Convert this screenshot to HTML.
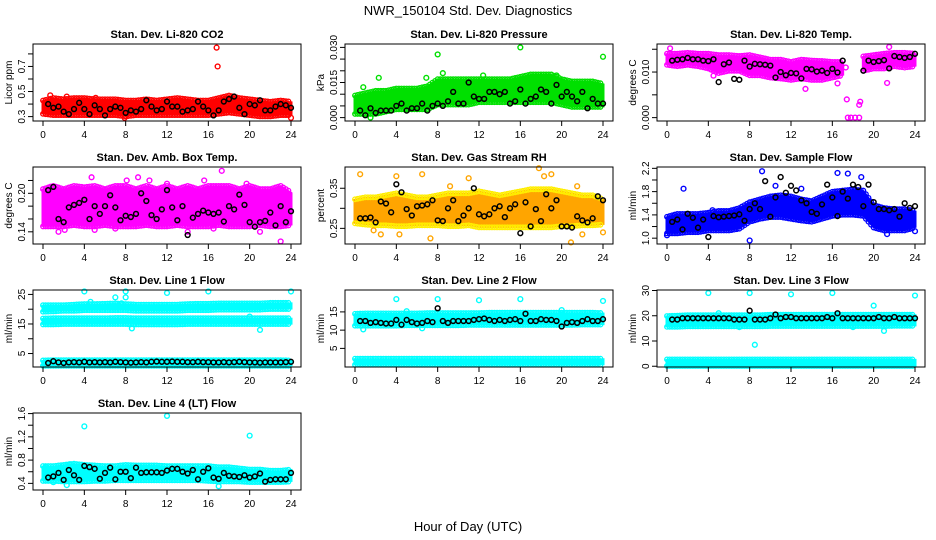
<!DOCTYPE html>
<html><head><meta charset="utf-8">
<style>
html,body{margin:0;padding:0;background:#fff;}
svg{display:block;font-family:"Liberation Sans",Arial,sans-serif;}
</style></head>
<body>
<svg id="chart" width="936" height="540" viewBox="0 0 936 540" xmlns="http://www.w3.org/2000/svg">
<rect width="936" height="540" fill="#fff"/>
<text x="468" y="15" text-anchor="middle" font-size="13">NWR_150104 Std. Dev. Diagnostics</text>
<text x="468" y="531" text-anchor="middle" font-size="13">Hour of Day (UTC)</text>
</svg>
<script>
const hours=[0,1,2,3,4,5,6,7,8,9,10,11,12,13,14,15,16,17,18,19,20,21,22,23,24];
const blackHours=[0.5,1,1.5,2,2.5,3,3.5,4,4.5,5,5.5,6,6.5,7,7.5,8,8.5,9,9.5,10,10.5,11,11.5,12,12.5,13,13.5,14,14.5,15,15.5,16,16.5,17,17.5,18,18.5,19,19.5,20,20.5,21,21.5,22,22.5,23,23.5,24];

const co2Lo=[0.33,0.32,0.32,0.32,0.32,0.32,0.32,0.32,0.31,0.32,0.32,0.32,0.32,0.32,0.32,0.32,0.32,0.33,0.34,0.33,0.32,0.31,0.31,0.32,0.32];
const co2Hi=[0.42,0.44,0.43,0.44,0.44,0.43,0.43,0.43,0.42,0.42,0.43,0.42,0.43,0.44,0.43,0.42,0.42,0.44,0.46,0.44,0.43,0.42,0.41,0.42,0.41];
const co2Black=[0.40,0.37,0.38,0.34,0.32,0.36,0.41,0.36,0.32,0.39,0.36,0.31,0.36,0.38,0.37,0.33,0.35,0.34,0.36,0.43,0.38,0.35,0.36,0.42,0.38,0.38,0.34,0.35,0.36,0.42,0.38,0.35,0.31,0.35,0.42,0.44,0.46,0.37,0.32,0.40,0.39,0.43,0.35,0.35,0.38,0.40,0.39,0.37];
const co2OutX=[16.8,16.9,0.7,24,7.9,2.3,5.1];
const co2OutY=[0.85,0.70,0.47,0.29,0.29,0.46,0.45];

const presLo=[0.002,0.002,0.002,0.003,0.004,0.004,0.004,0.004,0.006,0.006,0.006,0.006,0.007,0.007,0.007,0.007,0.007,0.007,0.007,0.007,0.006,0.005,0.005,0.005,0.005];
const presHi=[0.009,0.010,0.011,0.011,0.012,0.012,0.012,0.013,0.016,0.016,0.016,0.016,0.016,0.016,0.016,0.016,0.017,0.018,0.018,0.018,0.016,0.015,0.015,0.015,0.014];
const presBlack=[0.003,0.001,0.004,0.002,0.003,0.003,0.003,0.005,0.006,0.003,0.004,0.004,0.006,0.003,0.005,0.006,0.005,0.007,0.011,0.006,0.006,0.015,0.009,0.008,0.008,0.011,0.011,0.010,0.011,0.006,0.007,0.012,0.006,0.008,0.009,0.012,0.011,0.006,0.014,0.009,0.011,0.009,0.007,0.011,0.004,0.008,0.006,0.006];
const presOutX=[8,16,24,19.5,12.4,1.5,0.8,2.3,8.5,6.9];
const presOutY=[0.027,0.030,0.026,0.018,0.018,0.000,0.013,0.017,0.019,0.017];

const tempLo=[0.0118,0.0115,0.0118,0.0115,0.011,0.010,0.0105,0.0105,0.0095,0.0095,0.009,0.0088,0.0085,0.0088,0.0085,0.0085,0.009,0.0095,null,0.0105,0.011,0.011,0.0115,0.0112,0.0115];
const tempHi=[0.0138,0.0138,0.014,0.0138,0.0138,0.0135,0.0135,0.0133,0.0135,0.013,0.0125,0.0125,0.012,0.0125,0.0123,0.0122,0.012,0.012,null,0.0132,0.0135,0.0138,0.014,0.014,0.0138];
const tempBlack=[0.0125,0.0127,0.0128,0.0131,0.0128,0.0128,0.0125,0.0124,0.0128,0.0078,0.0117,0.0121,0.0085,0.0083,0.0125,0.0112,0.0118,0.0117,0.0116,0.0114,0.0088,0.0100,0.0093,0.0098,0.0097,0.0086,0.0107,0.0106,0.0101,0.0103,0.0098,0.0107,0.0099,0.0125,null,null,null,0.0103,0.0125,0.0122,0.0124,0.0126,0.0108,0.0135,0.0133,0.0131,0.0133,0.0140];
const tempOutX=[0.3,17.5,17.8,18.2,18.6,17.4,18.7,18.6,4.5,13.4,21.3,17.3,21.5,16.5];
const tempOutY=[0.0152,0,0,0,0,0.0040,0.0035,0.0028,0.0092,0.0063,0.0076,0.011,0.0155,0.0075];

const ambLo=[0.15,0.15,0.15,0.152,0.15,0.15,0.152,0.15,0.15,0.15,0.152,0.15,0.15,0.152,0.15,0.15,0.15,0.152,0.15,0.15,0.15,0.152,0.15,0.15,0.152];
const ambHi=[0.205,0.21,0.205,0.21,0.208,0.21,0.205,0.21,0.21,0.205,0.21,0.205,0.21,0.205,0.21,0.205,0.21,0.21,0.21,0.205,0.21,0.205,0.205,0.21,0.2];
const ambBlack=[0.205,0.21,0.16,0.155,0.178,0.182,0.185,0.19,0.16,0.18,0.168,0.18,0.197,0.178,0.158,0.165,0.163,0.168,0.20,0.188,0.166,0.16,0.175,0.205,0.178,0.158,0.18,0.135,0.162,0.168,0.173,0.17,0.168,0.17,0.156,0.18,0.175,0.198,0.182,0.155,0.148,0.155,0.157,0.17,0.15,0.18,0.155,0.172];
const ambOutX=[0.7,4.7,9.2,10.3,17.3,19.7,23,7,5,2.1,15.6,16.5,12,8.1,1.5,14,21];
const ambOutY=[0.21,0.225,0.225,0.22,0.235,0.215,0.125,0.145,0.143,0.143,0.22,0.145,0.215,0.22,0.14,0.14,0.14];

const rhLo=[0.265,0.262,0.26,0.26,0.258,0.258,0.26,0.26,0.26,0.258,0.258,0.26,0.255,0.255,0.255,0.255,0.255,0.255,0.255,0.255,0.258,0.258,0.26,0.26,0.262];
const rhHi=[0.32,0.325,0.325,0.33,0.335,0.33,0.325,0.325,0.33,0.335,0.335,0.335,0.34,0.335,0.33,0.335,0.34,0.345,0.345,0.345,0.34,0.335,0.33,0.33,0.32];
const rhBlack=[0.275,0.275,0.277,0.265,0.317,0.312,0.29,0.36,0.34,0.298,0.282,0.305,0.307,0.31,0.32,0.27,0.268,0.30,0.32,0.268,0.282,0.30,0.35,0.285,0.28,0.285,0.30,0.305,0.278,0.30,0.31,0.238,0.315,0.255,0.298,0.268,0.335,0.30,0.32,0.255,0.255,0.252,0.28,0.27,0.265,0.275,0.33,0.32];
const rhOutX=[0.5,6.5,17.8,19,18.3,4,20.9,7.3,4.3,2.5,24,22,11,9.2,1.8,21.5];
const rhOutY=[0.385,0.385,0.40,0.385,0.38,0.38,0.215,0.225,0.235,0.235,0.24,0.235,0.375,0.355,0.245,0.355];

const flowLo=[1.1,1.1,1.12,1.12,1.15,1.15,1.15,1.18,1.3,1.35,1.38,1.38,1.35,1.32,1.3,1.35,1.4,1.42,1.42,1.4,1.2,1.15,1.15,1.15,1.2];
const flowHi=[1.35,1.4,1.4,1.4,1.42,1.45,1.45,1.5,1.6,1.65,1.7,1.72,1.7,1.65,1.62,1.7,1.78,1.8,1.82,1.8,1.55,1.5,1.48,1.48,1.45];
const flowBlack=[1.28,1.32,1.15,1.42,1.35,1.18,1.32,1.02,1.38,1.36,1.37,1.38,1.39,1.41,1.30,1.50,1.60,1.50,1.98,1.37,1.70,2.05,1.78,1.90,1.82,1.65,1.60,1.45,1.42,1.58,1.92,1.70,1.38,1.80,1.68,1.92,1.88,1.55,1.92,1.62,1.50,1.50,1.48,1.50,1.37,1.60,1.52,1.55];
const flowOutX=[1.6,9.2,16.5,17.5,18.8,8,24,21.3,0,10.5,13,4.4];
const flowOutY=[1.85,2.15,2.12,2.11,2.05,0.96,1.12,1.07,1.05,1.9,1.85,1.48];

const l1LoA=[19.5,19.6,19.8,19.8,20,20,20,20,20,19.8,19.8,19.8,19.8,19.8,20,20,20,20.2,20.2,20.2,20.2,20.2,20.4,20.4,20.4];
const l1HiA=[21,21,21,21.2,21.4,21.4,21.5,21.6,21.4,21.2,21.2,21.2,21.2,21.2,21.4,21.5,21.5,21.6,21.6,21.6,21.6,21.6,21.8,21.8,21.8];
const l1LoB=[15.2,15.2,15.3,15.3,15.3,15.3,15.3,15.3,15.3,15.2,15.2,15.2,15.2,15.2,15.3,15.3,15.3,15.3,15.3,15.3,15.3,15.3,15.3,15.3,15.3];
const l1HiB=[16.5,16.6,16.6,16.6,16.6,16.6,16.6,16.7,16.7,16.6,16.6,16.6,16.6,16.6,16.6,16.6,16.6,16.6,16.6,16.6,16.6,16.6,16.6,16.6,16.6];
const l1LoC=[1.2,1.2,1.2,1.2,1.2,1.2,1.2,1.2,1.2,1.2,1.2,1.2,1.2,1.2,1.2,1.2,1.2,1.2,1.2,1.2,1.2,1.2,1.2,1.2,1.2];
const l1HiC=[2.3,2.4,2.4,2.4,2.4,2.4,2.4,2.4,2.4,2.4,2.4,2.4,2.4,2.4,2.4,2.4,2.4,2.4,2.4,2.4,2.4,2.4,2.4,2.4,2.3];
const l1Black=[1.8,2.4,2.0,1.8,2.0,2.1,2.0,2.2,2.0,2.1,2.0,2.1,2.0,2.2,2.1,2.0,1.9,2.0,2.1,2.0,2.2,2.3,2.2,2.2,2.3,2.2,2.2,2.1,2.1,2.2,2.1,2.1,2.0,2.0,2.1,2.0,2.1,2.2,2.1,2.0,2.0,1.9,2.0,2.0,2.0,2.0,2.1,2.2];
const l1OutX=[4,8,12,16,24,8,7,8.6,21,20,4.6,7.6];
const l1OutY=[26,26,25.5,26,26,24,24,13.5,13,17.5,22.5,22];

const l2LoA=[11.5,11.5,11.5,11.5,11.5,11.6,11.6,11.6,11.6,11.6,11.6,11.7,11.7,11.7,11.7,11.7,11.7,11.7,11.7,11.7,11.7,11.7,11.8,11.8,11.8];
const l2HiA=[14.2,14.3,14.3,14.3,14.3,14.3,14.3,14.4,14.4,14.4,14.4,14.4,14.4,14.5,14.5,14.5,14.5,14.5,14.5,14.5,14.5,14.5,14.5,14.5,14.4];
const l2LoB=[0.8,0.8,0.8,0.8,0.8,0.8,0.8,0.8,0.8,0.8,0.8,0.8,0.8,0.8,0.8,0.8,0.8,0.8,0.8,0.8,0.8,0.8,0.8,0.8,0.8];
const l2HiB=[1.9,1.9,1.9,1.9,1.9,1.9,1.9,1.9,1.9,1.9,1.9,1.9,1.9,1.9,1.9,1.9,1.9,1.9,1.9,1.9,1.9,1.9,1.9,1.9,1.9];
const l2Black=[12.5,12.5,12.0,12.2,12.0,11.8,11.8,12.8,11.5,12.8,12.2,11.8,12.0,12.5,12.2,16.0,12.5,12.0,12.5,12.5,12.5,12.5,12.8,13.0,13.2,12.8,12.5,12.8,12.5,12.8,13.0,12.5,14.5,12.5,12.5,13.0,12.8,12.8,12.5,11.0,12.0,12.2,12.0,12.5,13.0,12.5,12.5,13.0];
const l2OutX=[4,8,12,16,24,0.8,5,6.5,20,8];
const l2OutY=[18.5,18.5,18.2,18.5,18,10.2,15.2,10.5,15.5,14];

const l3LoA=[16,16,16.2,16.2,16.2,16.2,16.2,16.2,16.2,16.2,16.3,16.3,16.3,16.3,16.3,16.3,16.3,16.3,16.3,16.3,16.3,16.3,16.4,16.4,16.4];
const l3HiA=[19.5,19.6,19.8,19.8,19.8,19.8,19.8,19.8,19.8,19.8,20,20,20,20,20,20,20,20,20,20,20,20,20,20,20];
const l3LoB=[0.5,0.5,0.5,0.5,0.5,0.5,0.5,0.5,0.5,0.5,0.5,0.5,0.5,0.5,0.5,0.5,0.5,0.5,0.5,0.5,0.5,0.5,0.5,0.5,0.5];
const l3HiB=[2.3,2.3,2.3,2.3,2.3,2.3,2.3,2.3,2.3,2.3,2.3,2.3,2.3,2.3,2.3,2.3,2.3,2.3,2.3,2.3,2.3,2.3,2.3,2.3,2.3];
const l3Black=[18.5,18.5,19,19,19,19,19,19,19,19,19,19,18.5,18.5,18.5,22,18.5,18.5,18.5,19,20.5,19,19.5,19.5,19,19,19,19,19,19,19.5,19,21,19,19,19,19,19,19,19,19.5,19,19,19.5,19,19,19,19];
const l3OutX=[4,8,12,16,24,8.5,21,20,5,7,18];
const l3OutY=[29,29,28.5,29,28,8.5,14,24,21,15.5,15.5];

const l4Lo=[0.46,0.46,0.45,0.45,0.45,0.46,0.46,0.47,0.47,0.47,0.47,0.47,0.47,0.47,0.47,0.47,0.46,0.45,0.45,0.45,0.44,0.44,0.44,0.44,0.45];
const l4Hi=[0.68,0.68,0.7,0.72,0.7,0.69,0.68,0.68,0.7,0.69,0.69,0.69,0.68,0.68,0.68,0.68,0.68,0.66,0.66,0.64,0.62,0.62,0.6,0.6,0.62];
const l4Black=[0.50,0.52,0.58,0.46,0.63,0.54,0.46,0.70,0.68,0.65,0.48,0.58,0.67,0.47,0.60,0.60,0.49,0.67,0.58,0.59,0.59,0.59,0.58,0.62,0.65,0.65,0.60,0.57,0.63,0.47,0.60,0.66,0.50,0.48,0.58,0.53,0.52,0.51,0.54,0.50,0.52,0.57,0.43,0.46,0.47,0.47,0.47,0.58];
const l4OutX=[4,12,20,1,2.3,17,0.3,2.6];
const l4OutY=[1.38,1.56,1.22,0.42,0.37,0.35,0.68,0.73];

const SVGNS="http://www.w3.org/2000/svg";
const svg=document.getElementById('chart');
function mk(tag,attrs,parent){const e=document.createElementNS(SVGNS,tag);for(const k in attrs)e.setAttribute(k,attrs[k]);(parent||svg).appendChild(e);return e;}

const panels=[
 {id:'li820-co2',title:'Stan. Dev. Li-820 CO2',ylab:'Licor ppm',col:0,row:0,ymin:0.265,ymax:0.879,ticks:[0.3,0.4,0.5,0.6,0.7,0.8],labels:['0.3','','0.5','','0.7',''],color:'#ff0000',bands:[[co2Lo,co2Hi]],black:co2Black,ox:co2OutX,oy:co2OutY},
 {id:'li820-pressure',title:'Stan. Dev. Li-820 Pressure',ylab:'kPa',col:1,row:0,ymin:-0.00145,ymax:0.03145,ticks:[0,0.005,0.01,0.015,0.02,0.025,0.03],labels:['0.000','','','0.015','','','0.030'],color:'#00e000',bands:[[presLo,presHi]],black:presBlack,ox:presOutX,oy:presOutY},
 {id:'li820-temp',title:'Stan. Dev. Li-820 Temp.',ylab:'degrees C',col:2,row:0,ymin:-0.00074,ymax:0.01615,ticks:[0,0.005,0.01,0.015],labels:['0.000','','0.010',''],color:'#ff00ff',bands:[[tempLo,tempHi]],black:tempBlack,ox:tempOutX,oy:tempOutY},
 {id:'amb-box-temp',title:'Stan. Dev. Amb. Box Temp.',ylab:'degrees C',col:0,row:1,ymin:0.121,ymax:0.241,ticks:[0.14,0.16,0.18,0.20,0.22],labels:['0.14','','','0.20',''],color:'#ff00ff',bands:[[ambLo,ambHi]],black:ambBlack,ox:ambOutX,oy:ambOutY},
 {id:'gas-stream-rh',title:'Stan. Dev. Gas Stream RH',ylab:'percent',col:1,row:1,ymin:0.211,ymax:0.403,ticks:[0.25,0.30,0.35],labels:['0.25','','0.35'],color:'#ffa500',bands:[[rhLo,rhHi]],black:rhBlack,ox:rhOutX,oy:rhOutY,ring:'#ffee00'},
 {id:'sample-flow',title:'Stan. Dev. Sample Flow',ylab:'ml/min',col:2,row:1,ymin:0.90,ymax:2.223,ticks:[1.0,1.2,1.4,1.6,1.8,2.0,2.2],labels:['1.0','','1.4','','1.8','','2.2'],color:'#0000ff',bands:[[flowLo,flowHi]],black:flowBlack,ox:flowOutX,oy:flowOutY},
 {id:'line1-flow',title:'Stan. Dev. Line 1 Flow',ylab:'ml/min',col:0,row:2,ymin:0.44,ymax:26.5,ticks:[5,10,15,20,25],labels:['5','','15','','25'],color:'#00ffff',bands:[[l1LoA,l1HiA],[l1LoB,l1HiB],[l1LoC,l1HiC]],black:l1Black,ox:l1OutX,oy:l1OutY},
 {id:'line2-flow',title:'Stan. Dev. Line 2 Flow',ylab:'ml/min',col:1,row:2,ymin:-0.1,ymax:21.0,ticks:[5,10,15],labels:['5','10','15'],color:'#00ffff',bands:[[l2LoA,l2HiA],[l2LoB,l2HiB]],black:l2Black,ox:l2OutX,oy:l2OutY},
 {id:'line3-flow',title:'Stan. Dev. Line 3 Flow',ylab:'ml/min',col:2,row:2,ymin:-0.3,ymax:30.2,ticks:[0,10,20,30],labels:['0','10','20','30'],color:'#00ffff',bands:[[l3LoA,l3HiA],[l3LoB,l3HiB]],black:l3Black,ox:l3OutX,oy:l3OutY},
 {id:'line4-lt-flow',title:'Stan. Dev. Line 4 (LT) Flow',ylab:'ml/min',col:0,row:3,ymin:0.286,ymax:1.61,ticks:[0.4,0.6,0.8,1.0,1.2,1.4,1.6],labels:['0.4','','0.8','','1.2','','1.6'],color:'#00ffff',bands:[[l4Lo,l4Hi]],black:l4Black,ox:l4OutX,oy:l4OutY}
];
const xTicks=[0,4,8,12,16,20,24];

panels.forEach(p=>{
 const x0=33+312*p.col, x1=x0+268, y0=44+123*p.row, y1=y0+77;
 const xs=h=>x0+10+h*(248/24);
 const ys=v=>y1-(v-p.ymin)/(p.ymax-p.ymin)*77;
 const g=mk('g',{});
 
 
 const t=mk('text',{x:(x0+x1)/2,y:y0-6,'text-anchor':'middle','font-size':'11','font-weight':'bold'},g);
 t.textContent=p.title;
 
 
 const yl=mk('text',{x:0,y:0,'text-anchor':'middle','font-size':'10',transform:`translate(${x0-21},${(y0+y1)/2}) rotate(-90)`},g);
 yl.textContent=p.ylab;
 
 
 const plot=mk('g',{},g);
 
 
 // bands
 p.bands.forEach((b,bi)=>{
  const lo=b[0],hi=b[1];
  let seg=[];
  const segs=[];
  for(let i=0;i<hours.length;i++){
   if(lo[i]==null||hi[i]==null){if(seg.length)segs.push(seg);seg=[];continue;}
   seg.push(i);
  }
  if(seg.length)segs.push(seg);
  segs.forEach(s=>{
   let pts=s.map(i=>xs(hours[i])+','+ys(hi[i]));
   pts=pts.concat(s.slice().reverse().map(i=>xs(hours[i])+','+ys(lo[i])));
   const poly=mk('polygon',{points:pts.join(' '),fill:p.color,stroke:p.color,'stroke-width':'3'},plot);
   
   
   for(let k=0;k<s.length-1;k++){
    const i=s[k];
    for(let f=0;f<1;f+=0.25){
     const h=hours[i]+f;
     const l=lo[i]+(lo[i+1]-lo[i])*f, u=hi[i]+(hi[i+1]-hi[i])*f;
     [l,u].forEach((v,j)=>{
      const c=mk('circle',{cx:xs(h),cy:ys(v)+(j?-1:1),r:2.3,fill:'none',stroke:p.ring||p.color,'stroke-width':1.3},plot);
      
      
     });
    }
   }
  });
 });
 // outliers
 p.ox.forEach((h,i)=>{
  const c=mk('circle',{cx:xs(h),cy:ys(p.oy[i]),r:2.4,fill:'none',stroke:p.ring&&false?p.ring:p.color,'stroke-width':1.4},plot);
  
  
 });
 // black points
 p.black.forEach((v,i)=>{
  if(v==null)return;
  const c=mk('circle',{cx:xs(blackHours[i]),cy:ys(v),r:2.4,fill:'none',stroke:'#000','stroke-width':1.5},plot);
  
  
 });
 const box=mk('rect',{x:x0,y:y0,width:x1-x0,height:y1-y0,fill:'none',stroke:'#000','stroke-width':1},g);
 
 
 // x axis
 xTicks.forEach(h=>{
  mk('line',{x1:xs(h),x2:xs(h),y1:y1,y2:y1+5,stroke:'#000'},g);
  const tl=mk('text',{x:xs(h),y:y1+17,'text-anchor':'middle','font-size':'10'},g);
  tl.textContent=h;
  
  
 });
 // y axis
 p.ticks.forEach((v,i)=>{
  const yy=ys(v);
  mk('line',{x1:x0,x2:x0-5,y1:yy,y2:yy,stroke:'#000'},g);
  if(p.labels[i]){
   const tl=mk('text',{x:0,y:0,'text-anchor':'middle','font-size':'10',transform:`translate(${x0-8},${yy}) rotate(-90)`},g);
   tl.textContent=p.labels[i];
   
   
  }
 });
});
</script>
</body></html>
